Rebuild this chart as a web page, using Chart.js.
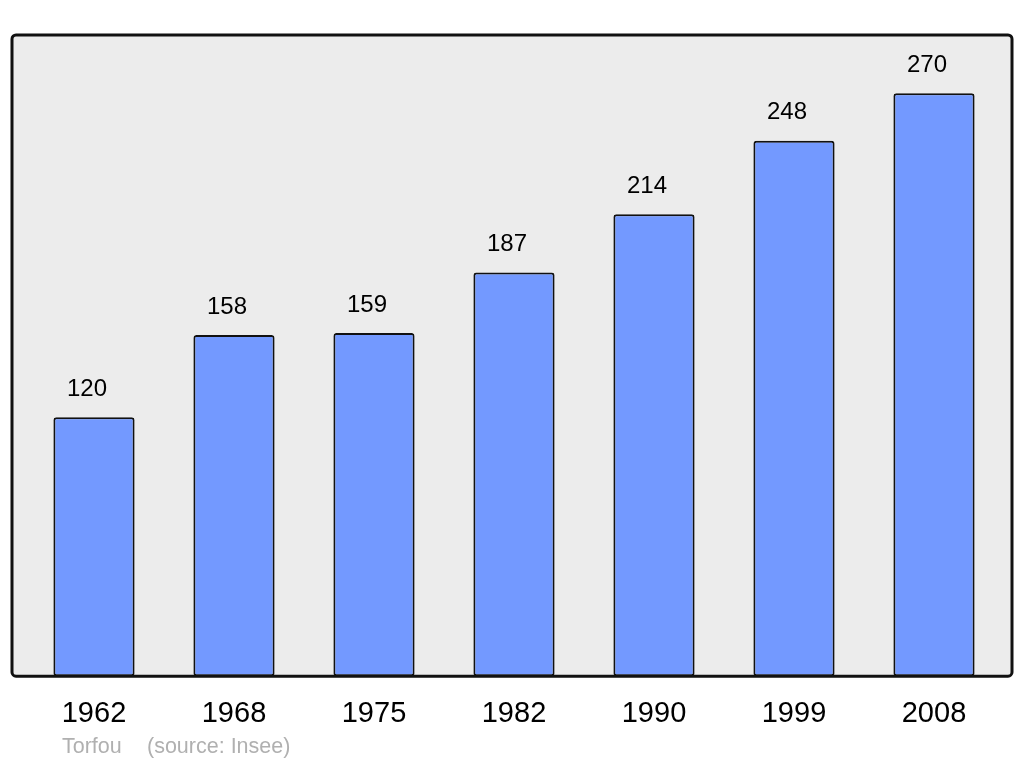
<!DOCTYPE html>
<html>
<head>
<meta charset="utf-8">
<script src="https://cdn.jsdelivr.net/npm/chart.js@4"></script>
<style>
    html, body { margin: 0; padding: 0; background: #fff; }
    #wrap { width: 1024px; height: 765px; }
</style>
</head>
<body>
<div id="wrap"><canvas id="popChart" width="1024" height="765"></canvas></div>
<script>
// Population of Torfou by census year
const years = ['1962', '1968', '1975', '1982', '1990', '1999', '2008'];
const population = [120, 158, 159, 187, 214, 248, 270];
const townName = 'Torfou';
const sourceText = '(source: Insee)';

// Grey panel with rounded border behind the bars
const panelPlugin = {
    id: 'panel',
    beforeDatasetsDraw(chart) {
        const { ctx, chartArea } = chart;
        const x0 = chartArea.left - 12, x1 = chartArea.right + 8;
        const y0 = chartArea.top, y1 = chartArea.bottom;
        ctx.save();
        ctx.beginPath();
        ctx.roundRect(x0, y0, x1 - x0, y1 - y0, 4);
        ctx.fillStyle = '#ececec';
        ctx.fill();
        ctx.restore();
    },
    afterDatasetsDraw(chart) {
        const { ctx, chartArea } = chart;
        const x0 = chartArea.left - 12, x1 = chartArea.right + 8;
        const y0 = chartArea.top, y1 = chartArea.bottom;
        ctx.save();
        ctx.beginPath();
        ctx.roundRect(x0, y0, x1 - x0, y1 - y0, 4);
        ctx.lineWidth = 3;
        ctx.strokeStyle = '#111';
        ctx.stroke();
        ctx.restore();
    }
};

// Value above each bar + footer text
const labelPlugin = {
    id: 'labels',
    afterDraw(chart) {
        const { ctx } = chart;
        const meta = chart.getDatasetMeta(0);
        ctx.save();
        ctx.font = '24px "Liberation Sans", Arial, sans-serif';
        ctx.fillStyle = '#000';
        ctx.textAlign = 'center';
        ctx.textBaseline = 'middle';
        meta.data.forEach((bar, i) => {
            ctx.fillText(population[i], bar.x - 7, bar.y - 28);
        });
        ctx.font = '21.5px "Liberation Sans", Arial, sans-serif';
        ctx.fillStyle = '#b0b0b0';
        ctx.textAlign = 'left';
        ctx.fillText(townName, 62, 747);
        ctx.fillText(sourceText, 147, 747);
        ctx.restore();
    }
};

const ctx = document.getElementById('popChart').getContext('2d');
new Chart(ctx, {
    type: 'bar',
    data: {
        labels: years,
        datasets: [{
            data: population,
            backgroundColor: '#7399ff',
            borderColor: '#111',
            borderWidth: 2,
            borderRadius: 3,
            borderSkipped: false,
            categoryPercentage: 1,
            barPercentage: 0.58
        }]
    },
    options: {
        responsive: false,
        animation: false,
        layout: {
            padding: { left: 24, right: 20, top: 35, bottom: 14 }
        },
        plugins: {
            legend: { display: false },
            tooltip: { enabled: false },
            title: { display: false }
        },
        scales: {
            x: {
                grid: { display: false, drawTicks: false },
                border: { display: false },
                ticks: {
                    color: '#000',
                    padding: 20,
                    font: { size: 29, family: '"Liberation Sans", Arial, sans-serif' }
                }
            },
            y: {
                display: false,
                min: 0,
                max: 297
            }
        }
    },
    plugins: [panelPlugin, labelPlugin]
});
</script>
</body>
</html>
